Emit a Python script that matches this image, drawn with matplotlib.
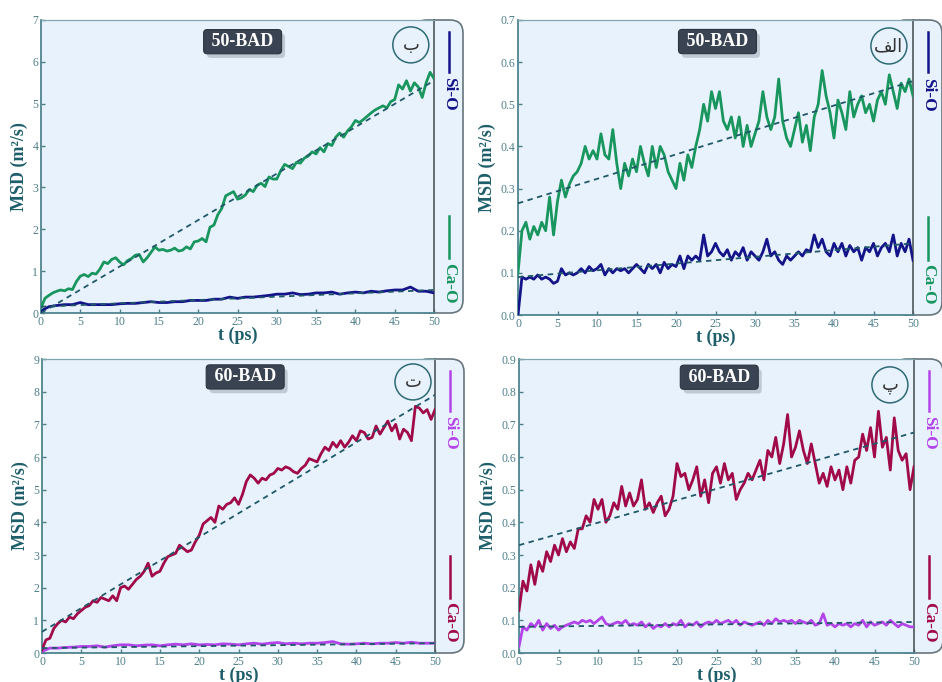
import numpy as np
import matplotlib
matplotlib.use("Agg")
import matplotlib.pyplot as plt
import matplotlib.patheffects as pe
from matplotlib.patches import FancyBboxPatch, Circle
from matplotlib.transforms import ScaledTranslation

# time grids (ps)
t_fine = np.arange(0, 50.5, 0.5)
t_coarse = np.arange(0, 51, 1)

# --- 50-BAD, panel b (top left) ---
ca_50_b = [0.12, 0.35, 0.42, 0.48, 0.52, 0.55, 0.53, 0.58, 0.56, 0.75,
           0.88, 0.92, 0.87, 0.95, 0.93, 1.05, 1.22, 1.18, 1.28, 1.32,
           1.22, 1.15, 1.25, 1.30, 1.38, 1.40, 1.22, 1.32, 1.45, 1.58,
           1.50, 1.52, 1.48, 1.50, 1.55, 1.48, 1.50, 1.58, 1.53, 1.70,
           1.72, 1.78, 1.70, 2.05, 2.10, 2.35, 2.50, 2.80, 2.85, 2.90,
           2.72, 2.75, 2.82, 2.95, 2.90, 3.05, 3.10, 3.02, 3.25, 3.20,
           3.20, 3.40, 3.55, 3.50, 3.45, 3.60, 3.58, 3.70, 3.75, 3.85,
           3.80, 3.95, 3.85, 4.05, 4.00, 4.20, 4.30, 4.20, 4.35, 4.45,
           4.60, 4.55, 4.62, 4.70, 4.78, 4.85, 4.90, 4.95, 4.90, 5.05,
           5.10, 5.45, 5.35, 5.55, 5.30, 5.50, 5.40, 5.15, 5.50, 5.75,
           5.60]
si_50_b = [0.05, 0.15, 0.18, 0.20, 0.20, 0.25, 0.20, 0.20, 0.20, 0.20,
           0.22, 0.23, 0.23, 0.25, 0.27, 0.25, 0.25, 0.27, 0.27, 0.30,
           0.30, 0.30, 0.33, 0.33, 0.38, 0.35, 0.38, 0.38, 0.40, 0.42,
           0.45, 0.45, 0.48, 0.44, 0.45, 0.48, 0.48, 0.50, 0.45, 0.48,
           0.50, 0.48, 0.52, 0.50, 0.53, 0.55, 0.55, 0.62, 0.52, 0.52,
           0.48]
fit_50_b_ca = [0.0, 5.55]   # value at t=0 and t=50
fit_50_b_si = [0.15, 0.55]

# --- 50-BAD, panel alef (top right) ---
ca_50_a = [0.10, 0.20, 0.22, 0.18, 0.21, 0.19, 0.22, 0.20, 0.28, 0.19,
           0.27, 0.32, 0.28, 0.31, 0.33, 0.34, 0.36, 0.40, 0.37, 0.39,
           0.37, 0.43, 0.38, 0.37, 0.44, 0.36, 0.30, 0.36, 0.33, 0.37,
           0.34, 0.40, 0.36, 0.33, 0.40, 0.35, 0.40, 0.38, 0.34, 0.32,
           0.30, 0.36, 0.32, 0.38, 0.35, 0.40, 0.44, 0.50, 0.46, 0.53,
           0.49, 0.53, 0.46, 0.44, 0.47, 0.42, 0.47, 0.40, 0.45, 0.40,
           0.43, 0.46, 0.53, 0.47, 0.44, 0.47, 0.56, 0.46, 0.42, 0.40,
           0.44, 0.48, 0.41, 0.45, 0.39, 0.47, 0.50, 0.58, 0.52, 0.48,
           0.42, 0.51, 0.48, 0.44, 0.53, 0.47, 0.50, 0.52, 0.48, 0.50,
           0.46, 0.51, 0.53, 0.50, 0.57, 0.53, 0.49, 0.55, 0.53, 0.56,
           0.52]
si_50_a = [0.00, 0.09, 0.085, 0.09, 0.085, 0.095, 0.085, 0.09, 0.085, 0.075,
           0.08, 0.11, 0.095, 0.10, 0.095, 0.10, 0.11, 0.10, 0.115, 0.105,
           0.11, 0.12, 0.095, 0.11, 0.10, 0.11, 0.105, 0.11, 0.10, 0.11,
           0.12, 0.11, 0.10, 0.12, 0.11, 0.12, 0.10, 0.125, 0.11, 0.12,
           0.115, 0.14, 0.11, 0.14, 0.13, 0.14, 0.13, 0.19, 0.14, 0.15,
           0.17, 0.15, 0.14, 0.155, 0.13, 0.15, 0.14, 0.16, 0.13, 0.15,
           0.14, 0.13, 0.15, 0.18, 0.14, 0.15, 0.13, 0.12, 0.14, 0.13,
           0.14, 0.15, 0.14, 0.155, 0.15, 0.19, 0.16, 0.18, 0.15, 0.14,
           0.17, 0.15, 0.17, 0.14, 0.165, 0.15, 0.16, 0.13, 0.16, 0.15,
           0.17, 0.14, 0.16, 0.17, 0.15, 0.19, 0.14, 0.17, 0.15, 0.18,
           0.13]
fit_50_a_ca = [0.265, 0.555]
fit_50_a_si = [0.09, 0.17]

# --- 60-BAD, panel te (bottom left) ---
ca_60_t = [0.10, 0.40, 0.45, 0.75, 0.90, 1.00, 0.95, 1.10, 1.05, 1.20,
           1.30, 1.40, 1.45, 1.60, 1.55, 1.70, 1.65, 1.60, 1.75, 1.60,
           2.00, 2.05, 1.95, 2.10, 2.25, 2.35, 2.50, 2.75, 2.35, 2.45,
           2.50, 2.75, 2.95, 3.00, 3.05, 3.30, 3.20, 3.10, 3.15, 3.40,
           3.60, 3.95, 4.05, 4.15, 4.00, 4.50, 4.40, 4.55, 4.60, 4.75,
           4.55, 4.85, 5.25, 5.45, 5.35, 5.20, 5.35, 5.30, 5.45, 5.50,
           5.65, 5.60, 5.70, 5.65, 5.55, 5.50, 5.65, 5.75, 5.95, 5.90,
           5.85, 6.10, 6.30, 6.20, 6.45, 6.30, 6.50, 6.30, 6.45, 6.65,
           6.50, 6.80, 6.75, 6.55, 6.60, 6.95, 6.70, 6.90, 7.10, 6.80,
           7.00, 6.55, 6.85, 6.75, 6.50, 7.55, 7.50, 7.35, 7.45, 7.15,
           7.45]
si_60_t = [0.05, 0.15, 0.15, 0.17, 0.18, 0.20, 0.20, 0.22, 0.18, 0.22,
           0.25, 0.25, 0.22, 0.24, 0.25, 0.22, 0.25, 0.27, 0.25, 0.28,
           0.25, 0.26, 0.25, 0.28, 0.27, 0.25, 0.28, 0.30, 0.27, 0.30,
           0.32, 0.28, 0.30, 0.28, 0.30, 0.30, 0.32, 0.35, 0.28, 0.27,
           0.28, 0.30, 0.28, 0.30, 0.30, 0.32, 0.30, 0.33, 0.30, 0.30,
           0.30]
fit_60_t_ca = [0.65, 7.90]
fit_60_t_si = [0.15, 0.30]

# --- 60-BAD, panel pe (bottom right) ---
ca_60_p = [0.13, 0.22, 0.19, 0.27, 0.21, 0.28, 0.25, 0.31, 0.28, 0.33,
           0.30, 0.35, 0.31, 0.34, 0.32, 0.38, 0.38, 0.42, 0.40, 0.47,
           0.44, 0.47, 0.40, 0.42, 0.46, 0.44, 0.51, 0.45, 0.49, 0.45,
           0.47, 0.53, 0.44, 0.46, 0.43, 0.46, 0.48, 0.42, 0.44, 0.48,
           0.58, 0.54, 0.55, 0.50, 0.53, 0.57, 0.48, 0.53, 0.46, 0.55,
           0.57, 0.52, 0.58, 0.53, 0.55, 0.47, 0.50, 0.52, 0.55, 0.53,
           0.56, 0.59, 0.53, 0.62, 0.60, 0.66, 0.58, 0.64, 0.73, 0.60,
           0.63, 0.68, 0.62, 0.58, 0.64, 0.58, 0.52, 0.55, 0.51, 0.57,
           0.53, 0.56, 0.50, 0.57, 0.52, 0.59, 0.60, 0.67, 0.62, 0.69,
           0.60, 0.74, 0.63, 0.66, 0.56, 0.72, 0.62, 0.59, 0.61, 0.50,
           0.57]
si_60_p = [0.02, 0.08, 0.07, 0.09, 0.08, 0.10, 0.07, 0.09, 0.075, 0.085,
           0.07, 0.08, 0.085, 0.09, 0.095, 0.09, 0.10, 0.095, 0.10, 0.09,
           0.10, 0.11, 0.09, 0.085, 0.09, 0.095, 0.09, 0.10, 0.085, 0.09,
           0.085, 0.095, 0.08, 0.09, 0.075, 0.085, 0.08, 0.09, 0.08, 0.09,
           0.085, 0.10, 0.08, 0.09, 0.085, 0.095, 0.08, 0.09, 0.095, 0.09,
           0.10, 0.09, 0.095, 0.10, 0.09, 0.10, 0.085, 0.095, 0.09, 0.085,
           0.09, 0.095, 0.085, 0.10, 0.09, 0.105, 0.095, 0.10, 0.095, 0.10,
           0.09, 0.10, 0.095, 0.09, 0.10, 0.085, 0.09, 0.12, 0.085, 0.09,
           0.08, 0.09, 0.085, 0.09, 0.08, 0.09, 0.085, 0.10, 0.08, 0.095,
           0.085, 0.09, 0.095, 0.085, 0.10, 0.09, 0.08, 0.09, 0.085, 0.08,
           0.08]
fit_60_p_ca = [0.33, 0.675]
fit_60_p_si = [0.08, 0.095]

W, H = 9.42, 6.82
SERIF = "Liberation Serif"
ARABIC = "DejaVu Sans"
BG = "#e8f2fc"
TEAL = "#1d5e6a"
TICK = "#4d7f8a"
FIT = "#1f5868"

fig = plt.figure(figsize=(W, H), dpi=100)
fig.patch.set_facecolor("white")


def panel(rect, si_t, si, ca_t, ca, fit_si, fit_ca, ylim, ystep, yfmt,
          title, letter, title_xy, circ_xy, si_col, ca_col):
    ax = fig.add_axes(rect)
    ax.set_facecolor(BG)

    # legend strip with rounded right corners, sits behind the axes
    pos = ax.get_position()
    strip = FancyBboxPatch((pos.x1 * W - 0.2, pos.y0 * H), 0.49, pos.height * H,
                           boxstyle="round,pad=0,rounding_size=0.13",
                           transform=fig.dpi_scale_trans, fc=BG, ec="#66767d",
                           lw=1.2, zorder=-1)
    fig.patches.append(strip)

    ax.plot(si_t, si, color=si_col, lw=2.0, zorder=3)
    ax.plot(ca_t, ca, color=ca_col, lw=2.0, zorder=3)
    ax.plot([0, 50], fit_si, color=FIT, lw=1.3, ls=(0, (3, 2.5)), zorder=4)
    ax.plot([0, 50], fit_ca, color=FIT, lw=1.3, ls=(0, (3, 2.5)), zorder=4)

    ax.set_xlim(0, 50)
    ax.set_ylim(*ylim)
    ax.set_xticks(np.arange(0, 51, 5))
    yt = np.arange(ylim[0], ylim[1] + ystep / 2, ystep)
    ax.set_yticks(yt)
    ax.set_yticklabels([yfmt.format(v) for v in yt])
    ax.tick_params(direction="in", length=3, width=1, colors=TICK,
                   labelsize=8.5, pad=2)
    for lab in ax.get_xticklabels() + ax.get_yticklabels():
        lab.set_family(SERIF)
        lab.set_color(TICK)

    for s in ["left", "bottom"]:
        ax.spines[s].set_color("#4f8590")
        ax.spines[s].set_linewidth(1.3)
    ax.spines["top"].set_color("#7fa6ae")
    ax.spines["top"].set_linewidth(0.9)
    ax.spines["right"].set_color("#4d565c")
    ax.spines["right"].set_linewidth(1.2)

    ax.set_xlabel("t (ps)", family=SERIF, fontweight="bold", fontsize=13,
                  color=TEAL, labelpad=-1)
    ax.set_ylabel("MSD (m²/s)", family=SERIF, fontweight="bold", fontsize=13,
                  color=TEAL, labelpad=3)

    # title box with a soft shadow
    tt = ax.text(title_xy[0], title_xy[1], " " + title + " ",
                 transform=ax.transAxes, ha="center", va="center",
                 fontsize=13, family=SERIF, fontweight="bold", color="white",
                 zorder=6,
                 bbox=dict(boxstyle="round,pad=0.2", fc="#3a4351",
                           ec="#2c3440", lw=0.8))
    tt.get_bbox_patch().set_path_effects(
        [pe.SimplePatchShadow(offset=(2.5, -3), shadow_rgbFace="#8d98a3",
                              alpha=0.45), pe.Normal()])

    # circled panel letter
    circ = Circle((0, 0), 0.18, fill=False, ec="#2e6b75", lw=1.1,
                  transform=fig.dpi_scale_trans
                  + ScaledTranslation(circ_xy[0], circ_xy[1], ax.transAxes),
                  clip_on=False, zorder=6)
    ax.add_patch(circ)
    ax.text(circ_xy[0], circ_xy[1], letter, transform=ax.transAxes,
            ha="center", va="center", fontsize=13, family=ARABIC,
            color="#333333", zorder=6)

    # vertical legend in the strip
    lx = 1 + 0.15 / (pos.width * W)
    ax.plot([lx, lx], [0.959, 0.823], color=si_col, lw=1.8,
            transform=ax.transAxes, clip_on=False)
    ax.text(lx, 0.805, "Si-O", transform=ax.transAxes, rotation=270,
            ha="center", va="top", fontsize=12.5, family=SERIF,
            fontweight="bold", color=si_col)
    ax.plot([lx, lx], [0.331, 0.188], color=ca_col, lw=1.8,
            transform=ax.transAxes, clip_on=False)
    ax.text(lx, 0.172, "Ca-O", transform=ax.transAxes, rotation=270,
            ha="center", va="top", fontsize=12.5, family=SERIF,
            fontweight="bold", color=ca_col)
    return ax


NAVY, GREEN = "#14148a", "#18965e"
PURPLE, CRIMSON = "#b344ea", "#a10a48"

panel([41 / 942, 1 - 313 / 682, 393 / 942, 293 / 682],
      t_coarse, si_50_b, t_fine, ca_50_b, fit_50_b_si, fit_50_b_ca,
      (0, 7), 1, "{:.0f}", "50-BAD", "ب", (0.513, 0.926), (0.941, 0.915),
      NAVY, GREEN)
panel([518 / 942, 1 - 315 / 682, 395 / 942, 295 / 682],
      t_fine, si_50_a, t_fine, ca_50_a, fit_50_a_si, fit_50_a_ca,
      (0, 0.7), 0.1, "{:.1f}", "50-BAD", "\ufed2\ufedf\ufe8d", (0.505, 0.927),
      (0.939, 0.912), NAVY, GREEN)
panel([42 / 942, 1 - 653 / 682, 393 / 942, 294 / 682],
      t_coarse, si_60_t, t_fine, ca_60_t, fit_60_t_si, fit_60_t_ca,
      (0, 9), 1, "{:.0f}", "60-BAD", "ت", (0.517, 0.939), (0.944, 0.922),
      PURPLE, CRIMSON)
panel([519 / 942, 1 - 653 / 682, 395 / 942, 294 / 682],
      t_fine, si_60_p, t_fine, ca_60_p, fit_60_p_si, fit_60_p_ca,
      (0, 0.9), 0.1, "{:.1f}", "60-BAD", "پ", (0.507, 0.938), (0.939, 0.912),
      PURPLE, CRIMSON)

fig.savefig("out.png", dpi=100)
